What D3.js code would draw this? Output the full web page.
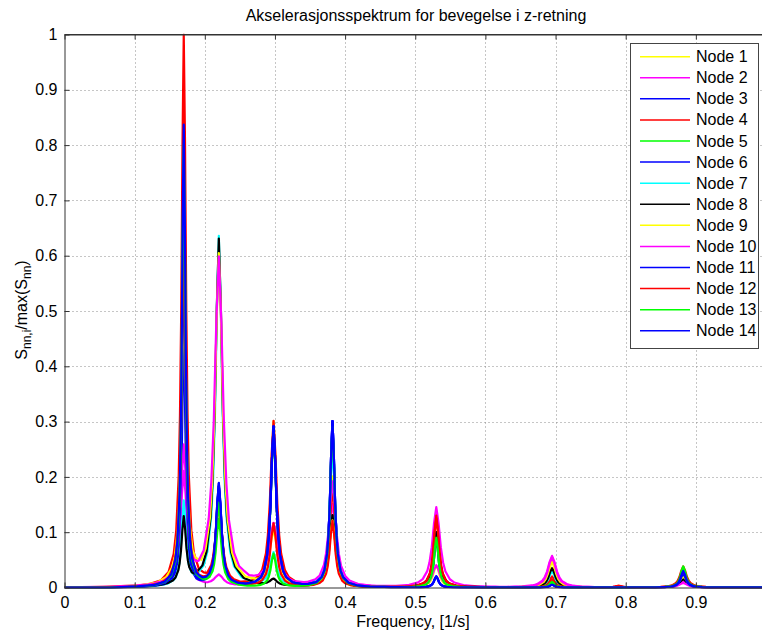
<!DOCTYPE html>
<html><head><meta charset="utf-8">
<script src="https://cdn.jsdelivr.net/npm/d3@7"></script>
<style>
body{margin:0;background:#fff;}
svg text{font-family:"Liberation Sans",Arial,sans-serif;fill:#000;}
</style></head>
<body><svg id="c" width="762" height="632"></svg>
<script>
// ---- data ----
const nodeNames = ["Node 1","Node 2","Node 3","Node 4","Node 5","Node 6","Node 7","Node 8","Node 9","Node 10","Node 11","Node 12","Node 13","Node 14"];
const nodeColors = ["#ffff00","#ff00ff","#0000ff","#ff0000","#00ff00","#0000ff","#00ffff","#000000","#ffff00","#ff00ff","#0000ff","#ff0000","#00ff00","#0000ff"];
const modeFreqs = [0.170, 0.220, 0.298, 0.382, 0.530, 0.695, 0.790, 0.882];
const modeHalfWidths = [0.0030, 0.0045, 0.0045, 0.0038, 0.0038, 0.0042, 0.0045, 0.0045];
const nodeWidthFactor = [1.0, 1.7, 1.0, 1.2, 1.0, 1.0, 1.2, 1.3, 1.4, 1.6, 1.0, 1.2, 1.0, 1.0];
// peak height of each node at each mode (rows: modes, columns: nodes 1..14)
const amp0170 = [0.60, 0.21, 0.45, 1.00, 0.80, 0.70, 0.15, 0.12, 0.50, 0.245, 0.60, 0.63, 0.78, 0.835];
const amp0220 = [0.18, 0.02, 0.18, 0.15, 0.12, 0.18, 0.635, 0.63, 0.60, 0.595, 0.185, 0.145, 0.15, 0.185];
const amp0298 = [0.30, 0.115, 0.29, 0.30, 0.28, 0.29, 0.06, 0.012, 0.10, 0.11, 0.29, 0.115, 0.06, 0.29];
const amp0382 = [0.20, 0.15, 0.30, 0.18, 0.29, 0.30, 0.25, 0.13, 0.12, 0.19, 0.30, 0.12, 0.29, 0.30];
const amp0530 = [0.10, 0.145, 0.02, 0.13, 0.09, 0.09, 0.10, 0.10, 0.04, 0.04, 0.02, 0.125, 0.09, 0.02];
const amp0695 = [0.05, 0.057, 0.005, 0.02, 0.01, 0.01, 0.03, 0.035, 0.05, 0.055, 0.005, 0.015, 0.01, 0.005];
const amp0790 = [0.001, 0.001, 0.0, 0.003, 0.0, 0.0, 0.0, 0.0, 0.001, 0.001, 0.0, 0.003, 0.0, 0.0];
const amp0882 = [0.03, 0.01, 0.03, 0.038, 0.038, 0.03, 0.02, 0.015, 0.02, 0.008, 0.025, 0.03, 0.035, 0.03];
const modeAmps = [amp0170, amp0220, amp0298, amp0382, amp0530, amp0695, amp0790, amp0882];
// resonance peak profile (offset in half-widths -> relative height)
const profileOffsets = [-35, -22, -14, -9, -6, -4, -3, -2, -1.5, -1, -0.5, 0, 0.5, 1, 1.5, 2, 3, 4, 6, 9, 14, 22, 35];
const profileValues  = [0, 0.002, 0.005, 0.012, 0.027, 0.059, 0.10, 0.20, 0.31, 0.50, 0.80, 1, 0.80, 0.50, 0.31, 0.20, 0.10, 0.059, 0.027, 0.012, 0.005, 0.002, 0];
const xTicks = [0,0.1,0.2,0.3,0.4,0.5,0.6,0.7,0.8,0.9];
const yTicks = [0,0.1,0.2,0.3,0.4,0.5,0.6,0.7,0.8,0.9,1];

// ---- layout ----
const L = 64.5, T = 34.5, B = 587.5, Rfull = 766;
const svg = d3.select("#c");
const x = d3.scaleLinear().domain([0,1]).range([L, Rfull]);
const y = d3.scaleLinear().domain([0,1]).range([B, T]);
const profile = d3.scaleLinear().domain(profileOffsets).range(profileValues).clamp(true);

// build node series
const series = nodeNames.map((name, n) => {
  let xs = [0, 1];
  modeFreqs.forEach((f, m) => {
    const hw = modeHalfWidths[m] * nodeWidthFactor[n];
    profileOffsets.forEach(o => xs.push(f + o * hw));
  });
  xs = Array.from(new Set(xs.map(v => +v.toFixed(6)))).filter(v => v >= 0 && v <= 1).sort((a,b)=>a-b);
  const pts = xs.map(fx => {
    let v = 0;
    modeFreqs.forEach((f, m) => {
      const hw = modeHalfWidths[m] * nodeWidthFactor[n];
      v += modeAmps[m][n] * profile((fx - f) / hw);
    });
    return [fx, Math.min(v, 1)];
  });
  return {name, color: nodeColors[n], pts};
});

// clip
svg.append("defs").append("clipPath").attr("id","clip")
  .append("rect").attr("x", L).attr("y", T - 1).attr("width", 762 - L).attr("height", B - T + 2);

svg.append("rect").attr("x", L).attr("y", T).attr("width", 762 - L).attr("height", B - T).attr("fill", "#fff");

// grid
const grid = svg.append("g").attr("stroke", "#8c8c8c").attr("stroke-width", 1).attr("stroke-dasharray", "1,3");
xTicks.filter(t => t > 0).forEach(t => grid.append("line").attr("x1", Math.round(x(t))+0.5).attr("x2", Math.round(x(t))+0.5).attr("y1", T).attr("y2", B));
yTicks.filter(t => t > 0 && t < 1).forEach(t => grid.append("line").attr("x1", L).attr("x2", 762).attr("y1", Math.round(y(t))+0.5).attr("y2", Math.round(y(t))+0.5));

// lines
const line = d3.line().x(d => x(d[0])).y(d => y(d[1]));
const lg = svg.append("g").attr("clip-path", "url(#clip)");
series.forEach(s => {
  lg.append("path").attr("d", line(s.pts)).attr("fill", "none").attr("stroke", s.color)
    .attr("stroke-width", 2.2).attr("stroke-linejoin", "round");
});

// axes
const fmt = d => d === 0 ? "0" : (d === 1 ? "1" : d3.format(".1f")(d));
const xAxis = svg.append("g").attr("transform", `translate(0,${B})`)
  .call(d3.axisBottom(x).tickValues(xTicks).tickFormat(fmt).tickSizeInner(-5).tickSizeOuter(0).tickPadding(9));
const xTop = svg.append("g").attr("transform", `translate(0,${T})`)
  .call(d3.axisTop(x).tickValues(xTicks).tickFormat("").tickSizeInner(-5).tickSizeOuter(0));
const yAxis = svg.append("g").attr("transform", `translate(${L},0)`)
  .call(d3.axisLeft(y).tickValues(yTicks).tickFormat(fmt).tickSizeInner(-5).tickSizeOuter(0).tickPadding(7));
[xAxis, xTop, yAxis].forEach(g => {
  g.select(".domain").attr("stroke", "#333");
  g.selectAll(".tick line").attr("stroke", "#333");
  g.selectAll("text").attr("font-size", 16).attr("font-family", "Liberation Sans, Arial, sans-serif").attr("fill", "#000");
});
svg.append("line").attr("x1", L).attr("x2", 762).attr("y1", T).attr("y2", T).attr("stroke", "#333");

// title & labels
svg.append("text").attr("x", 416).attr("y", 21).attr("text-anchor", "middle").attr("font-size", 16)
  .text("Akselerasjonsspektrum for bevegelse i z-retning");
svg.append("text").attr("x", 413).attr("y", 627).attr("text-anchor", "middle").attr("font-size", 16)
  .text("Frequency, [1/s]");
const yl = svg.append("text").attr("transform", "translate(27,310) rotate(-90)").attr("text-anchor", "middle").attr("font-size", 16);
yl.append("tspan").text("S");
yl.append("tspan").attr("font-size", 12).attr("dy", 4).text("nn,i");
yl.append("tspan").attr("dy", -4).text("/max(S");
yl.append("tspan").attr("font-size", 12).attr("dy", 4).text("nn");
yl.append("tspan").attr("dy", -4).text(")");

// legend
const lgX = 630.5, lgY = 43.5, lgW = 128, lgH = 305, rowH = 21.08, row0 = 56.7;
svg.append("rect").attr("x", lgX).attr("y", lgY).attr("width", lgW).attr("height", lgH)
  .attr("fill", "#fff").attr("stroke", "#444").attr("stroke-width", 1);
series.forEach((s, i) => {
  const cy = row0 + i * rowH;
  svg.append("line").attr("x1", 640).attr("x2", 690).attr("y1", cy).attr("y2", cy)
    .attr("stroke", s.color).attr("stroke-width", 1.5);
  svg.append("text").attr("x", 696).attr("y", cy + 5.5).attr("font-size", 16).text(s.name);
});
</script></body></html>
